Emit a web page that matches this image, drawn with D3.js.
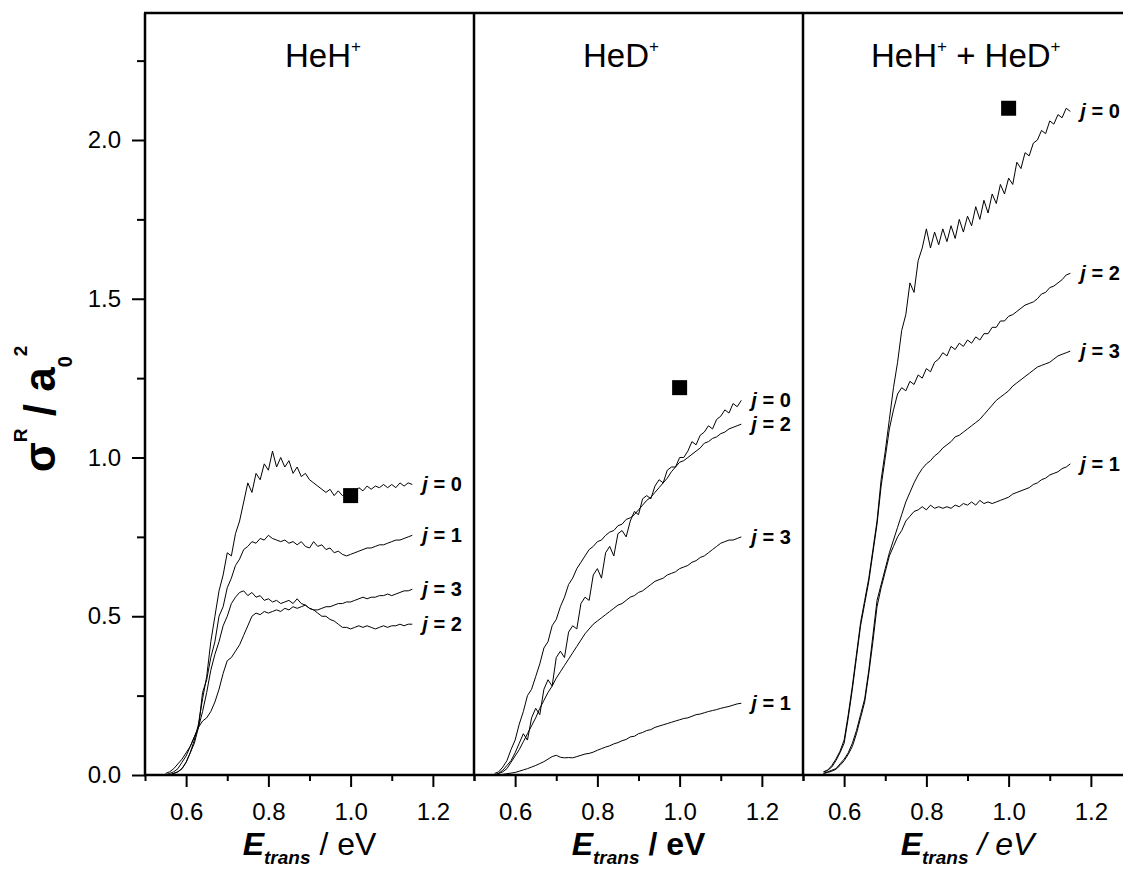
<!DOCTYPE html>
<html>
<head>
<meta charset="utf-8">
<script src="https://cdn.jsdelivr.net/npm/d3@7/dist/d3.min.js"></script>
<style>
  html, body { margin: 0; padding: 0; background: #fff; }
  svg { display: block; font-family: "Liberation Sans", Arial, Helvetica, sans-serif; }
  .curve { fill: none; stroke: #000; stroke-width: 1; stroke-linejoin: round; }
  .frame { stroke: #000; stroke-width: 2.5; fill: none; }
  .tick line { stroke: #000; stroke-width: 2; }
  .tick text { font-size: 24px; fill: #000; }
</style>
</head>
<body>
<svg id="chart" width="1123" height="871"></svg>
<script>
// Collision energy grid (eV), shared by every curve
const energy = [0.55, 0.56, 0.57, 0.58, 0.59, 0.60, 0.61, 0.62, 0.63, 0.64,
  0.65, 0.66, 0.67, 0.68, 0.69, 0.70, 0.71, 0.72, 0.73, 0.74,
  0.75, 0.76, 0.77, 0.78, 0.79, 0.80, 0.81, 0.82, 0.83, 0.84,
  0.85, 0.86, 0.87, 0.88, 0.89, 0.90, 0.91, 0.92, 0.93, 0.94,
  0.95, 0.96, 0.97, 0.98, 0.99, 1.00, 1.01, 1.02, 1.03, 1.04,
  1.05, 1.06, 1.07, 1.08, 1.09, 1.10, 1.11, 1.12, 1.13, 1.14, 1.15];

// HeH+ panel
const hehJ0 = [0.00, 0.00, 0.005, 0.01, 0.02, 0.04, 0.07, 0.11, 0.16, 0.24,
  0.31, 0.42, 0.50, 0.58, 0.63, 0.70, 0.69, 0.76, 0.80, 0.86,
  0.92, 0.89, 0.95, 0.93, 0.98, 0.96, 1.02, 0.97, 1.00, 0.97,
  0.99, 0.95, 0.97, 0.94, 0.95, 0.93, 0.92, 0.91, 0.90, 0.89,
  0.90, 0.88, 0.895, 0.88, 0.89, 0.875, 0.89, 0.905, 0.895, 0.91,
  0.90, 0.91, 0.905, 0.915, 0.905, 0.915, 0.905, 0.92, 0.91, 0.92, 0.915];
const hehJ1 = [0.00, 0.00, 0.005, 0.01, 0.02, 0.04, 0.07, 0.10, 0.15, 0.26,
  0.30, 0.37, 0.42, 0.50, 0.53, 0.59, 0.62, 0.66, 0.68, 0.71,
  0.72, 0.735, 0.73, 0.745, 0.74, 0.755, 0.745, 0.74, 0.735, 0.74,
  0.73, 0.735, 0.725, 0.735, 0.72, 0.715, 0.735, 0.72, 0.725, 0.71,
  0.715, 0.70, 0.705, 0.695, 0.69, 0.695, 0.70, 0.705, 0.71, 0.715,
  0.715, 0.72, 0.725, 0.725, 0.73, 0.735, 0.74, 0.74, 0.745, 0.75, 0.755];
const hehJ2 = [0.00, 0.005, 0.01, 0.02, 0.04, 0.06, 0.09, 0.12, 0.15, 0.20,
  0.26, 0.33, 0.38, 0.42, 0.47, 0.50, 0.54, 0.56, 0.575, 0.58,
  0.565, 0.575, 0.56, 0.565, 0.55, 0.555, 0.545, 0.55, 0.54, 0.545,
  0.55, 0.54, 0.555, 0.54, 0.535, 0.525, 0.52, 0.51, 0.50, 0.50,
  0.49, 0.485, 0.475, 0.465, 0.465, 0.46, 0.465, 0.47, 0.465, 0.47,
  0.465, 0.46, 0.465, 0.47, 0.465, 0.47, 0.47, 0.475, 0.47, 0.475, 0.475];
const hehJ3 = [0.005, 0.01, 0.02, 0.035, 0.05, 0.07, 0.09, 0.12, 0.15, 0.17,
  0.18, 0.20, 0.23, 0.27, 0.32, 0.36, 0.37, 0.39, 0.41, 0.44,
  0.47, 0.50, 0.51, 0.505, 0.515, 0.51, 0.515, 0.52, 0.515, 0.525,
  0.52, 0.53, 0.525, 0.53, 0.535, 0.525, 0.52, 0.52, 0.525, 0.53,
  0.53, 0.535, 0.54, 0.54, 0.545, 0.545, 0.55, 0.555, 0.56, 0.555,
  0.56, 0.56, 0.565, 0.565, 0.57, 0.565, 0.57, 0.575, 0.58, 0.58, 0.585];

// HeD+ panel
const hedJ0 = [0.00, 0.005, 0.015, 0.03, 0.045, 0.07, 0.10, 0.13, 0.11, 0.18,
  0.21, 0.19, 0.27, 0.30, 0.28, 0.37, 0.39, 0.37, 0.45, 0.47,
  0.46, 0.54, 0.56, 0.55, 0.63, 0.65, 0.62, 0.70, 0.72, 0.69,
  0.76, 0.77, 0.75, 0.80, 0.83, 0.82, 0.87, 0.88, 0.87, 0.91,
  0.93, 0.92, 0.96, 0.97, 0.97, 1.00, 1.00, 1.02, 1.05, 1.04,
  1.07, 1.08, 1.10, 1.09, 1.12, 1.13, 1.15, 1.14, 1.17, 1.16, 1.18];
const hedJ1 = [0.00, 0.00, 0.002, 0.004, 0.006, 0.008, 0.012, 0.016, 0.02, 0.025,
  0.03, 0.036, 0.042, 0.05, 0.058, 0.062, 0.056, 0.054, 0.055, 0.054,
  0.058, 0.062, 0.066, 0.068, 0.072, 0.078, 0.083, 0.088, 0.092, 0.098,
  0.102, 0.108, 0.112, 0.12, 0.122, 0.13, 0.134, 0.14, 0.143, 0.15,
  0.154, 0.158, 0.162, 0.166, 0.17, 0.174, 0.178, 0.18, 0.185, 0.19,
  0.192, 0.196, 0.20, 0.203, 0.206, 0.21, 0.213, 0.216, 0.22, 0.224, 0.226];
const hedJ2 = [0.005, 0.01, 0.025, 0.045, 0.08, 0.11, 0.16, 0.20, 0.25, 0.27,
  0.31, 0.35, 0.40, 0.42, 0.47, 0.49, 0.53, 0.56, 0.60, 0.62,
  0.65, 0.67, 0.69, 0.71, 0.72, 0.735, 0.74, 0.755, 0.765, 0.77,
  0.785, 0.79, 0.805, 0.81, 0.82, 0.835, 0.85, 0.865, 0.875, 0.89,
  0.905, 0.92, 0.935, 0.955, 0.97, 0.985, 0.99, 1.00, 1.01, 1.02,
  1.03, 1.045, 1.05, 1.06, 1.065, 1.075, 1.08, 1.09, 1.095, 1.10, 1.105];
const hedJ3 = [0.00, 0.005, 0.01, 0.02, 0.04, 0.06, 0.08, 0.105, 0.13, 0.155,
  0.18, 0.21, 0.235, 0.26, 0.28, 0.305, 0.325, 0.345, 0.365, 0.385,
  0.405, 0.425, 0.445, 0.46, 0.475, 0.485, 0.495, 0.505, 0.515, 0.525,
  0.535, 0.54, 0.55, 0.56, 0.565, 0.575, 0.58, 0.59, 0.60, 0.61,
  0.615, 0.62, 0.63, 0.635, 0.64, 0.65, 0.655, 0.66, 0.67, 0.675,
  0.685, 0.69, 0.70, 0.71, 0.72, 0.73, 0.735, 0.74, 0.74, 0.745, 0.75];

// HeH+ + HeD+ panel
const sumJ0 = [0.01, 0.015, 0.03, 0.05, 0.075, 0.11, 0.19, 0.28, 0.38, 0.48,
  0.55, 0.62, 0.71, 0.80, 0.93, 1.02, 1.12, 1.22, 1.30, 1.40,
  1.45, 1.55, 1.52, 1.62, 1.66, 1.72, 1.66, 1.71, 1.67, 1.72,
  1.68, 1.73, 1.69, 1.75, 1.71, 1.76, 1.73, 1.79, 1.75, 1.81,
  1.77, 1.83, 1.80, 1.86, 1.83, 1.88, 1.86, 1.93, 1.91, 1.96,
  1.95, 1.99, 2.00, 2.03, 2.02, 2.06, 2.05, 2.08, 2.07, 2.10, 2.09];
const sumJ1 = [0.005, 0.008, 0.012, 0.018, 0.03, 0.045, 0.065, 0.09, 0.13, 0.18,
  0.23, 0.32, 0.42, 0.53, 0.59, 0.64, 0.69, 0.72, 0.75, 0.77,
  0.80, 0.815, 0.83, 0.835, 0.845, 0.835, 0.85, 0.84, 0.845, 0.84,
  0.845, 0.84, 0.85, 0.845, 0.855, 0.85, 0.86, 0.85, 0.865, 0.855,
  0.86, 0.855, 0.86, 0.865, 0.87, 0.875, 0.885, 0.89, 0.895, 0.90,
  0.905, 0.915, 0.92, 0.93, 0.935, 0.945, 0.95, 0.955, 0.965, 0.97, 0.98];
const sumJ2 = [0.01, 0.015, 0.025, 0.045, 0.07, 0.10, 0.18, 0.27, 0.37, 0.47,
  0.54, 0.61, 0.70, 0.79, 0.91, 1.00, 1.09, 1.15, 1.20, 1.22,
  1.21, 1.24, 1.23, 1.26, 1.25, 1.28, 1.27, 1.30, 1.31, 1.33,
  1.32, 1.35, 1.34, 1.36, 1.35, 1.37, 1.36, 1.38, 1.37, 1.39,
  1.39, 1.41, 1.41, 1.43, 1.43, 1.445, 1.45, 1.46, 1.47, 1.48,
  1.485, 1.49, 1.50, 1.515, 1.52, 1.535, 1.54, 1.55, 1.56, 1.575, 1.58];
const sumJ3 = [0.005, 0.01, 0.015, 0.02, 0.035, 0.05, 0.07, 0.10, 0.14, 0.19,
  0.24, 0.33, 0.44, 0.55, 0.60, 0.65, 0.70, 0.74, 0.78, 0.82,
  0.86, 0.89, 0.92, 0.945, 0.965, 0.98, 0.99, 1.005, 1.015, 1.03,
  1.04, 1.05, 1.065, 1.07, 1.08, 1.09, 1.10, 1.11, 1.12, 1.135,
  1.15, 1.165, 1.18, 1.19, 1.20, 1.21, 1.225, 1.235, 1.245, 1.255,
  1.265, 1.275, 1.285, 1.29, 1.295, 1.30, 1.31, 1.32, 1.325, 1.33, 1.335];

// Single reference points (filled squares), [E, sigma]
const refPoints = [[1.0, 0.88], [1.0, 1.22], [1.0, 2.10]];

const panelTitles = [["HeH", "+"], ["HeD", "+"], ["HeH", "+", " + HeD", "+"]];
const panelSeries = [
  [{ j: 0, v: hehJ0 }, { j: 1, v: hehJ1 }, { j: 3, v: hehJ3 }, { j: 2, v: hehJ2 }],
  [{ j: 0, v: hedJ0 }, { j: 2, v: hedJ2 }, { j: 3, v: hedJ3 }, { j: 1, v: hedJ1 }],
  [{ j: 0, v: sumJ0 }, { j: 2, v: sumJ2 }, { j: 3, v: sumJ3 }, { j: 1, v: sumJ1 }]
];
const xMajor = [0.6, 0.8, 1.0, 1.2];
const xMinor = [0.5, 0.7, 0.9, 1.1, 1.3];
const yMajor = [0.0, 0.5, 1.0, 1.5, 2.0];
const yMinor = [0.25, 0.75, 1.25, 1.75, 2.25];

// layout
const svg = d3.select("#chart");
const topY = 13, bottomY = 775, leftX = 145, panelW = 329;
const unitWeight = ["normal", "bold", "normal"];
const unitStyle = ["normal", "normal", "italic"];
const titleX = [285, 583, 871];

const y = d3.scaleLinear().domain([0, 2.4]).range([bottomY, topY]);

// y axis (left of first panel only)
const yAxisG = svg.append("g").attr("transform", `translate(${leftX},0)`);
yAxisG.append("g")
    .call(d3.axisLeft(y).tickValues(yMajor).tickSize(13).tickPadding(11).tickFormat(d3.format(".1f")))
    .call(g => g.select(".domain").remove());
yAxisG.append("g")
    .call(d3.axisLeft(y).tickValues(yMinor).tickSize(8).tickFormat(""))
    .call(g => g.select(".domain").remove());

const line = d3.line();

panelSeries.forEach((series, p) => {
    const x0 = leftX + p * panelW;
    const x = d3.scaleLinear().domain([0.5, 1.3]).range([x0, x0 + panelW]);
    const g = svg.append("g");

    // bottom axis ticks
    g.append("g").attr("transform", `translate(0,${bottomY})`)
        .call(d3.axisBottom(x).tickValues(xMajor).tickSize(12).tickPadding(16).tickFormat(d3.format(".1f")))
        .call(a => a.select(".domain").remove());
    g.append("g").attr("transform", `translate(0,${bottomY})`)
        .call(d3.axisBottom(x).tickValues(xMinor).tickSize(6).tickFormat(""))
        .call(a => a.select(".domain").remove());

    // curves
    series.forEach(s => {
        g.append("path")
            .attr("class", "curve")
            .attr("d", line(energy.map((e, i) => [x(e), y(s.v[i])])));

        const last = s.v[s.v.length - 1];
        const lab = g.append("text")
            .attr("x", x(energy[energy.length - 1]) + 10)
            .attr("y", y(last) + 7)
            .style("font-size", "20px")
            .style("font-weight", "bold");
        lab.append("tspan").style("font-style", "italic").text("j");
        lab.append("tspan").text(" = " + s.j);
    });

    // reference point
    const rp = refPoints[p];
    g.append("rect")
        .attr("x", x(rp[0]) - 7.5)
        .attr("y", y(rp[1]) - 7.5)
        .attr("width", 15)
        .attr("height", 15)
        .attr("fill", "#000");

    // panel title
    const t = g.append("text").attr("x", titleX[p]).attr("y", 67).style("font-size", "33px");
    panelTitles[p].forEach((part, k) => {
        const sup = part === "+";
        t.append("tspan")
            .attr("dy", k === 0 ? 0 : (sup ? -15 : 15))
            .style("font-size", sup ? "17px" : "33px")
            .text(part);
    });

    // x axis title
    const xt = g.append("text")
        .attr("x", x0 + panelW / 2)
        .attr("y", 855)
        .attr("text-anchor", "middle")
        .style("font-size", "32px");
    xt.append("tspan").style("font-weight", "bold").style("font-style", "italic").text("E");
    xt.append("tspan").attr("dy", 9).style("font-size", "19px")
        .style("font-weight", "bold").style("font-style", "italic").text("trans");
    xt.append("tspan").attr("dy", -9)
        .style("font-weight", unitWeight[p]).style("font-style", unitStyle[p])
        .text(" / eV");

    // panel frame (left divider)
    svg.append("line").attr("class", "frame")
        .attr("x1", x0).attr("x2", x0).attr("y1", topY).attr("y2", bottomY);
});

// top and bottom frame lines
svg.append("line").attr("class", "frame")
    .attr("x1", leftX - 1).attr("x2", 1140).attr("y1", topY).attr("y2", topY);
svg.append("line").attr("class", "frame")
    .attr("x1", leftX - 1).attr("x2", 1140).attr("y1", bottomY).attr("y2", bottomY);

// y axis title
const yt = svg.append("text")
    .attr("transform", "translate(55,409) rotate(-90)")
    .attr("text-anchor", "middle")
    .style("font-size", "44px")
    .style("font-weight", "bold");
yt.append("tspan").text("σ");
yt.append("tspan").attr("dy", -28).style("font-size", "19px").text("R");
yt.append("tspan").attr("dy", 28).text(" / a");
yt.append("tspan").attr("dy", 17).style("font-size", "20px").text("0");
yt.append("tspan").attr("dy", -45).style("font-size", "19px").text("2");
</script>
</body>
</html>
